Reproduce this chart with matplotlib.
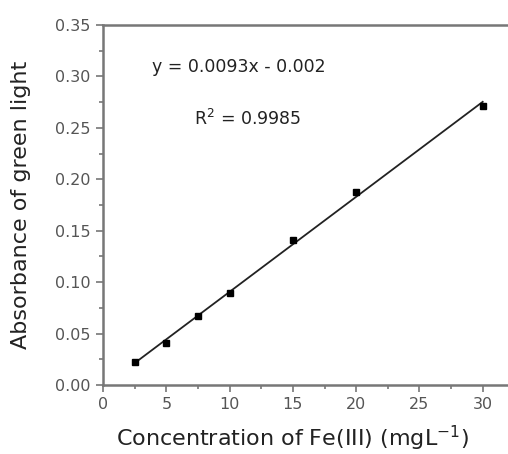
import matplotlib.pyplot as plt
import numpy as np

# Fe(III) calibration data
conc = np.array([2.5, 5, 7.5, 10, 15, 20, 30])
absorb = np.array([0.022, 0.041, 0.067, 0.089, 0.141, 0.188, 0.271])
err = np.array([0.001, 0.0015, 0.001, 0.002, 0.0015, 0.003, 0.0015])

eq_text = "y = 0.0093x - 0.002"
r2_text = "R$^2$ = 0.9985"

fig = plt.figure(figsize=(5.08, 4.54), dpi=100)
ax = fig.add_axes([0.203, 0.152, 0.797, 0.793])

# linear fit through the data
slope, icpt = np.polyfit(conc, absorb, 1)
xfit = np.array([conc.min(), conc.max()])
ax.plot(xfit, slope * xfit + icpt, color='#222222', lw=1.3, zorder=2)

ax.errorbar(conc, absorb, yerr=err, fmt='s', ms=4.5, color='black',
            ecolor='black', elinewidth=1, capsize=0, zorder=3)

ax.set_xlim(0, 32)
ax.set_ylim(0, 0.35)
ax.set_xticks(np.arange(0, 31, 5))
ax.set_xticks(np.arange(2.5, 31, 5), minor=True)
ax.set_yticks(np.arange(0, 0.351, 0.05))
ax.set_yticks(np.arange(0.025, 0.35, 0.05), minor=True)
ax.yaxis.set_major_formatter(plt.FormatStrFormatter('%.2f'))

for side in ['left', 'bottom', 'top']:
    ax.spines[side].set_color('#777777')
    ax.spines[side].set_linewidth(1.8)
ax.spines['right'].set_visible(False)

ax.tick_params(which='both', direction='out', color='#777777', width=1.2,
               labelcolor='#555555', labelsize=11.5, top=False, right=False)
ax.tick_params(which='major', length=5, pad=4)
ax.tick_params(which='minor', length=3)

ax.set_xlabel("Concentration of Fe(III) (mgL$^{-1}$)", fontsize=16,
              color='#222222', labelpad=8)
ax.xaxis.label.set_x(0.467)
ax.set_ylabel("Absorbance of green light", fontsize=16,
              color='#222222', labelpad=17)

ax.text(3.9, 0.309, eq_text, fontsize=12.5, color='#222222', va='center')
ax.text(7.2, 0.259, r2_text, fontsize=12.5, color='#222222', va='center')

fig.savefig('out.png', dpi=100)
